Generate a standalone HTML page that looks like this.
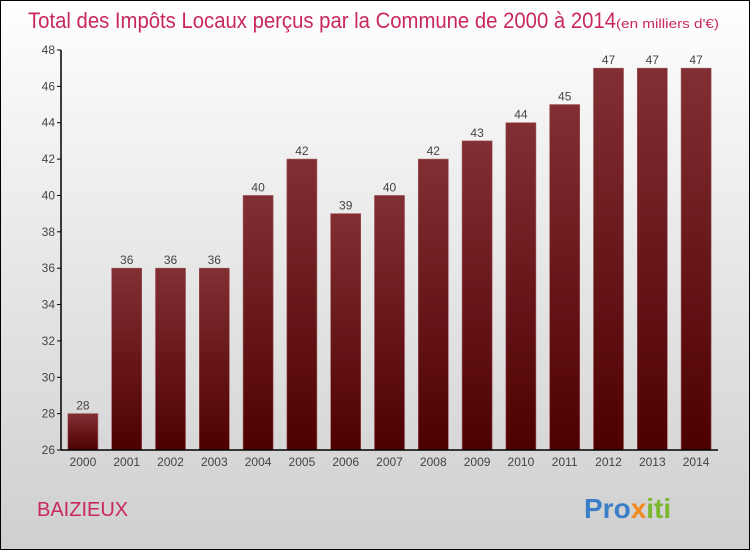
<!DOCTYPE html>
<html><head><meta charset="utf-8"><style>
body{margin:0;}
#wrap{position:relative;width:748px;height:548px;border:1px solid #000;background:linear-gradient(#ffffff,#f4f4f4 20%,#cfcfcf);font-family:"Liberation Sans",sans-serif;overflow:hidden;}
</style></head><body>
<div id="wrap">
<svg id="chart" width="748" height="548"></svg>
</div>
<script>
const years=["2000","2001","2002","2003","2004","2005","2006","2007","2008","2009","2010","2011","2012","2013","2014"];
const values=[28,36,36,36,40,42,39,40,42,43,44,45,47,47,47];
const yTicks=[26,28,30,32,34,36,38,40,42,44,46,48];
const NS="http://www.w3.org/2000/svg";
const svg=document.getElementById('chart');
const L=60,R=717,T=49,B=449,yMin=26,yMax=48;
const y=v=>B-(v-yMin)/(yMax-yMin)*(B-T);
const step=(R-L)/years.length;
const xc=i=>L+(i+0.5)*step;
function mk(t,a){const e=document.createElementNS(NS,t);for(const k in a)e.setAttribute(k,a[k]);svg.appendChild(e);return e;}
const defs=mk('defs',{});
defs.innerHTML='<linearGradient id="bg" x1="0" y1="0" x2="0" y2="1"><stop offset="0" stop-color="#822f33"/><stop offset="1" stop-color="#4e0000"/></linearGradient>';
const title=mk('text',{x:27,y:27,'font-size':22,fill:'#c8285a'});


title.innerHTML='<tspan textLength="588" lengthAdjust="spacingAndGlyphs">Total des Impôts Locaux perçus par la Commune de 2000 à 2014</tspan><tspan font-size="13" textLength="103" lengthAdjust="spacingAndGlyphs">(en milliers d\'€)</tspan>';
values.forEach((v,i)=>{
  const r=mk('rect',{x:xc(i)-15,y:y(v),width:30,height:B-y(v),fill:'url(#bg)',stroke:'#9a5458','stroke-width':0.6});
  
  
  const t=mk('text',{x:xc(i),y:y(v)-4,'font-size':12,fill:'#444','text-anchor':'middle'});
  t.textContent=v;
  
  
  const xl=mk('text',{x:xc(i),y:B+16,'font-size':12,fill:'#444','text-anchor':'middle'});
  xl.textContent=years[i];
  
  
});
yTicks.forEach(v=>{
  mk('line',{x1:L-4,x2:L,y1:y(v),y2:y(v),stroke:'#000'});
  const t=mk('text',{x:L-6,y:y(v)+4,'font-size':12,fill:'#444','text-anchor':'end'});
  t.textContent=v;
  
  
});
const ya=mk('line',{x1:L,x2:L,y1:T,y2:B,stroke:'#000','stroke-width':1.5});


const xa=mk('line',{x1:L,x2:R,y1:B,y2:B,stroke:'#000','stroke-width':1.5});


const town=mk('text',{x:36,y:515,'font-size':20,fill:'#c8285a'});
town.textContent='BAIZIEUX';


const logo=mk('text',{x:583,y:517,'font-size':28,'font-weight':'bold'});


logo.innerHTML='<tspan fill="#3a7fc8">Pro</tspan><tspan fill="#f08a1c">x</tspan><tspan fill="#7cb82f">iti</tspan>';
</script>
</body></html>
